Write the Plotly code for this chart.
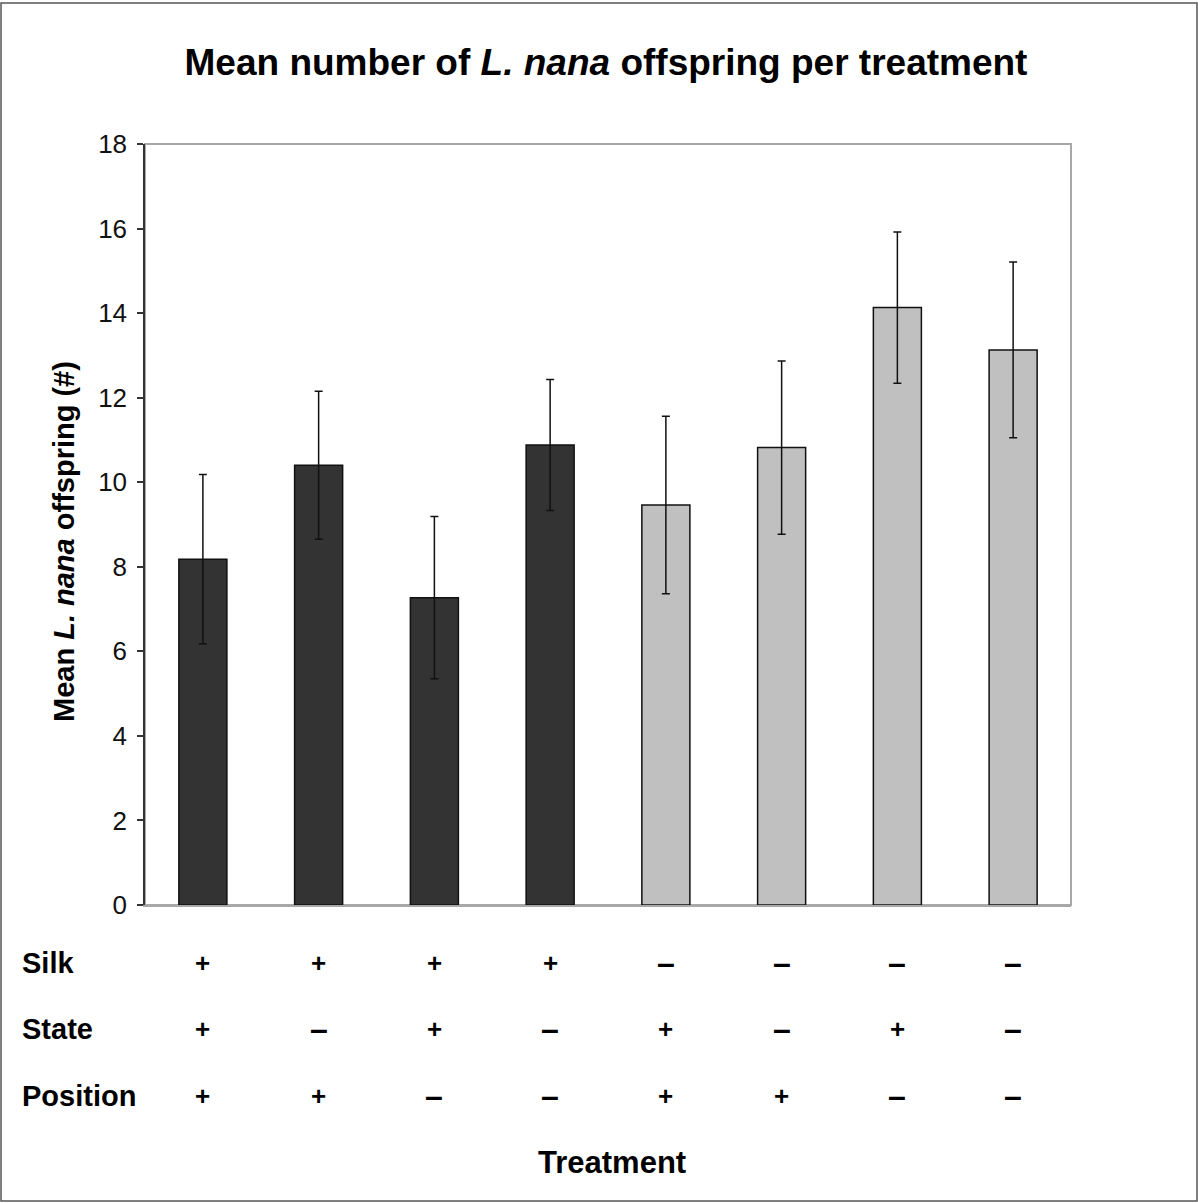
import plotly.graph_objects as go

# ---- data ----
treatments = ["T1", "T2", "T3", "T4", "T5", "T6", "T7", "T8"]
means = [8.18, 10.40, 7.27, 10.88, 9.46, 10.82, 14.13, 13.13]
errors = [2.00, 1.75, 1.92, 1.55, 2.10, 2.05, 1.79, 2.08]
bar_colors = ["#333333"] * 4 + ["#c0c0c0"] * 4
silk = ["+", "+", "+", "+", "–", "–", "–", "–"]
state = ["+", "–", "+", "–", "+", "–", "+", "–"]
position = ["+", "+", "–", "–", "+", "+", "–", "–"]
row_names = ["Silk", "State", "Position"]
y_ticks = [0, 2, 4, 6, 8, 10, 12, 14, 16, 18]

W, H = 1198, 1203
L, R, T, B = 145, 1071, 144, 905  # plot area in pixels
PW, PH = R - L, B - T


def px(x):
    return (x - L) / PW


def py(y):
    return (B - y) / PH


FONT = "Liberation Sans, Arial, sans-serif"

fig = go.Figure()
fig.add_trace(go.Bar(
    x=treatments, y=means,
    marker=dict(color=bar_colors, line=dict(color="#111111", width=1.5)),
    error_y=dict(type="data", array=errors, visible=True,
                 color="#111111", thickness=1.5, width=4),
    showlegend=False, hoverinfo="y",
))

annotations = []
# row labels and +/- symbols
row_y = [963, 1029, 1096]
for name, yy, vals in zip(row_names, row_y, [silk, state, position]):
    annotations.append(dict(text="<b>%s</b>" % name, x=px(20), y=py(yy),
                            xref="paper", yref="paper", xanchor="left", yanchor="middle",
                            showarrow=False, font=dict(family=FONT, size=29, color="#000")))
    for cat, v in zip(treatments, vals):
        sz = 26 if v == "+" else 32
        annotations.append(dict(text="<b>%s</b>" % v, x=cat, y=py(yy),
                                xref="x", yref="paper", xanchor="center", yanchor="middle",
                                showarrow=False, font=dict(family=FONT, size=sz, color="#000")))

# x axis title
annotations.append(dict(text="<b>Treatment</b>", x=px(612), y=py(1162),
                        xref="paper", yref="paper", xanchor="center", yanchor="middle",
                        showarrow=False, font=dict(family=FONT, size=31, color="#000")))
# y axis title
annotations.append(dict(text="<b>Mean <i>L. nana</i> offspring (#)</b>", x=px(64), y=py(542),
                        xref="paper", yref="paper", xanchor="center", yanchor="middle",
                        textangle=-90, showarrow=False,
                        font=dict(family=FONT, size=29, color="#000")))

shapes = [
    # plot area frame (grey)
    dict(type="rect", xref="paper", yref="paper", x0=0, x1=1, y0=0, y1=1,
         line=dict(color="#a8a8a8", width=2), layer="below"),
    # outer figure border
    dict(type="rect", xref="paper", yref="paper",
         x0=px(1), x1=px(1197), y0=py(1201), y1=py(3),
         line=dict(color="#555555", width=1.5), layer="below"),
]

fig.update_layout(
    width=W, height=H,
    margin=dict(l=L, r=W - R, t=T, b=H - B),
    paper_bgcolor="white", plot_bgcolor="white",
    title=dict(text="<b>Mean number of <i>L. nana</i> offspring per treatment</b>",
               x=606 / W, y=1 - 62 / H, xanchor="center", yanchor="middle",
               font=dict(family=FONT, size=37, color="#000")),
    bargap=0.585,
    annotations=annotations,
    shapes=shapes,
)
fig.update_xaxes(showticklabels=False, ticks="", showline=True, linecolor="#a8a8a8",
                 linewidth=2, showgrid=False, zeroline=False)
fig.update_yaxes(range=[0, 18], tickvals=y_ticks, ticks="outside", ticklen=6,
                 tickwidth=1.5, tickcolor="#333", showline=True, linecolor="#333",
                 linewidth=1.5, showgrid=False, zeroline=False, ticklabelstandoff=5,
                 tickfont=dict(family=FONT, size=26, color="#111"))

fig.write_html("out.html")
